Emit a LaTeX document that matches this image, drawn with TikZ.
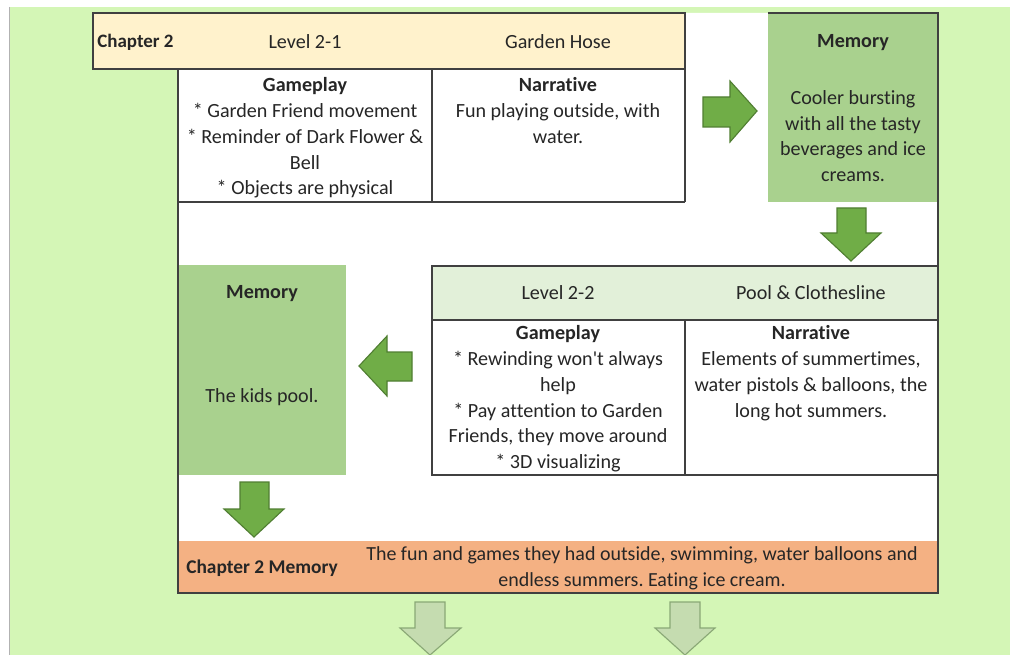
\documentclass[tikz,border=0pt]{standalone}
\usepackage{fontspec}
\setmainfont{Carlito}[Ligatures={TeX,NoCommon}]
\frenchspacing
\definecolor{bggreen}{HTML}{D4F6B6}
\definecolor{cream}{HTML}{FFF2CC}
\definecolor{memgreen}{HTML}{A9D18E}
\definecolor{lightgreen}{HTML}{E2F0D9}
\definecolor{orange}{HTML}{F4B183}
\definecolor{arrowgreen}{HTML}{70AD47}
\definecolor{arrowedge}{HTML}{507E32}
\definecolor{palegreen}{HTML}{C5DCB0}
\definecolor{paleedge}{HTML}{8AA876}
\definecolor{linegray}{HTML}{404040}
\definecolor{textcol}{HTML}{262626}
\begin{document}
\begin{tikzpicture}[x=0.025cm,y=-0.025cm,
  frame/.style={draw=linegray, line width=1.1pt},
  txt/.style={align=center, inner sep=0pt, font=\fontsize{14.3}{18.4}\selectfont, text=textcol},
  bold/.style={font=\fontsize{14.3}{18.4}\selectfont\bfseries},
  bigtxt/.style={align=center, inner sep=0pt, font=\fontsize{14.2}{18.4}\selectfont, text=textcol},
  greenarrow/.style={fill=arrowgreen, draw=arrowedge, line width=0.8pt, line join=miter},
  palearrow/.style={fill=palegreen, draw=paleedge, line width=0.8pt, line join=miter}]

\useasboundingbox (0,0) rectangle (1010,655);
\fill[white] (0,0) rectangle (1010,655);
\fill[bggreen] (10,7) rectangle (1010,655);
\draw[gray!60, line width=1pt] (9.5,7) -- (9.5,655);

% white sheet
\fill[white] (93,13) -- (938,13) -- (938,593) -- (178,593) -- (178,69) -- (93,69) -- cycle;

% fills
\fill[cream] (93,13) rectangle (685,69);
\fill[memgreen] (768,13) rectangle (938,202);
\fill[memgreen] (178,265) rectangle (346,475);
\fill[lightgreen] (432,266) rectangle (938,320);
\fill[orange] (178,541) rectangle (938,593);

% frames
\draw[frame] (93,13) rectangle (685,69);
\draw[frame] (178,69) -- (178,593) -- (938,593) -- (938,13) -- (768,13);
\draw[frame] (432,69) -- (432,202);
\draw[frame] (685,69) -- (685,202);
\draw[frame] (178,202) -- (685,202);
\draw[frame] (432,266) rectangle (938,475);
\draw[frame] (432,320) -- (938,320);
\draw[frame] (685,320) -- (685,475);

% Level 2-1 texts
\node[txt, font=\fontsize{13.5}{18.4}\selectfont\bfseries, anchor=west] (ch2) at (97,42) {Chapter 2};
\node[txt] (l21) at (305,42) {Level 2-1};
\node[txt] (gh) at (558,42) {Garden Hose};
\node[txt, anchor=north] (gp1) at (305,77) {\textbf{Gameplay}\\{}* Garden Friend movement\\{}* Reminder of Dark Flower \&\\Bell\\{}* Objects are physical};
\node[txt, anchor=north] (nr1) at (558,77) {\textbf{Narrative}\\Fun playing outside, with\\water.};

% Memory 1
\node[txt, bold] (m1t) at (853,43) {Memory};
\node[txt, anchor=north] (m1) at (853,90) {Cooler bursting\\with all the tasty\\beverages and ice\\creams.};

% Level 2-2
\node[txt] (l22) at (558,293) {Level 2-2};
\node[txt] (pc) at (811,293) {Pool \& Clothesline};
\node[txt, anchor=north] (gp2) at (558,325) {\textbf{Gameplay}\\{}* Rewinding won\textquotesingle t always\\help\\{}* Pay attention to Garden\\Friends, they move around\\{}* 3D visualizing};
\node[txt, anchor=north] (nr2) at (811,325) {\textbf{Narrative}\\Elements of summertimes,\\water pistols \& balloons, the\\long hot summers.};

% Memory 2
\node[txt, bold] (m2t) at (262,294) {Memory};
\node[txt] (m2) at (262,397) {The kids pool.};

% Chapter memory
\node[bigtxt, font=\fontsize{13.8}{18.4}\selectfont\bfseries] (cm) at (262,568) {Chapter 2 Memory};
\node[bigtxt] (cmt) at (642,568) {The fun and games they had outside, swimming, water balloons and\\endless summers. Eating ice cream.};

% green block arrows
\draw[greenarrow] (703,97) -- (730,97) -- (730,81) -- (757,111) -- (730,142) -- (730,127) -- (703,127) -- cycle;
\draw[greenarrow] (837,208) -- (866,208) -- (866,233) -- (881,233) -- (851,261) -- (821,233) -- (837,233) -- cycle;
\draw[greenarrow] (412,352) -- (387,352) -- (387,336) -- (359,366) -- (387,396) -- (387,381) -- (412,381) -- cycle;
\draw[greenarrow] (240,482) -- (269,482) -- (269,509) -- (284,509) -- (254,537) -- (224,509) -- (240,509) -- cycle;

% pale arrows
\draw[palearrow] (415,602) -- (445,602) -- (445,628) -- (461,628) -- (430,655) -- (400,628) -- (415,628) -- cycle;
\draw[palearrow] (670,602) -- (700,602) -- (700,628) -- (715,628) -- (685,655) -- (655,628) -- (670,628) -- cycle;
\end{tikzpicture}
\end{document}
